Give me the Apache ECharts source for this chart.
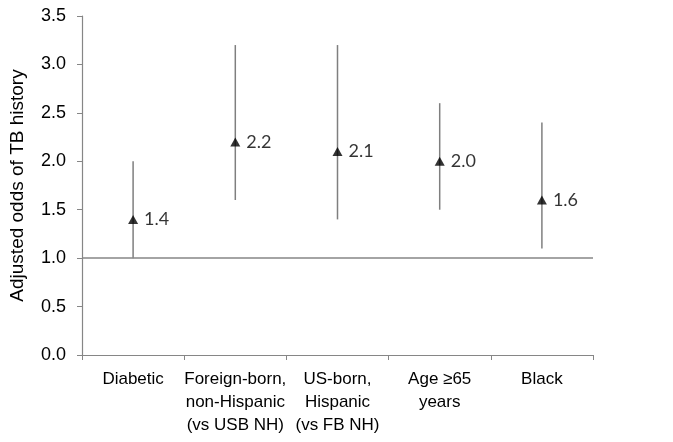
<!DOCTYPE html>
<html><head><meta charset="utf-8">
<script src="https://cdn.jsdelivr.net/npm/echarts@6/dist/echarts.min.js"></script>
<style>html,body{margin:0;padding:0;background:#fff}#c{width:673px;height:442px}</style>
</head><body><div id="c"></div>
<script>
const categories = ['Diabetic', 'Foreign-born,\nnon-Hispanic\n(vs USB NH)', 'US-born,\nHispanic\n(vs FB NH)', 'Age \u226565\nyears', 'Black'];
const oddsRatio = [1.4, 2.2, 2.1, 2.0, 1.6];
const lowerCI = [1.0, 1.6, 1.4, 1.5, 1.1];
const upperCI = [2.0, 3.2, 3.2, 2.6, 2.4];
const refValue = 1.0;

const chart = echarts.init(document.getElementById('c'));
chart.setOption({
  animation: false,
  backgroundColor: '#fff',
  grid: { left: 81, right: 80, top: 16, bottom: 87, containLabel: false },
  xAxis: {
    type: 'category', data: categories, boundaryGap: true,
    axisLine: { lineStyle: { color: '#868686', width: 1.2 } },
    axisTick: { show: true, length: 5, interval: 0, lineStyle: { color: '#868686' } },
    axisLabel: { interval: 0, color: '#000', fontFamily: 'Liberation Sans', fontSize: 17, lineHeight: 23, margin: 13 }
  },
  yAxis: {
    type: 'value', min: 0, max: 3.5, interval: 0.5,
    name: 'Adjusted odds of TB history', nameLocation: 'middle', nameGap: 55,
    nameTextStyle: { color: '#000', fontFamily: 'Liberation Sans', fontSize: 19 },
    axisLine: { show: true, lineStyle: { color: '#868686', width: 1.2 } },
    axisTick: { show: true, length: 5, lineStyle: { color: '#868686' } },
    splitLine: { show: false },
    axisLabel: { color: '#000', fontFamily: 'Liberation Sans', fontSize: 18, margin: 16, formatter: v => v.toFixed(1) }
  },
  series: [
    {
      type: 'custom',
      data: categories.map((c, i) => [i, lowerCI[i], upperCI[i]]),
      renderItem: function (params, api) {
        const lo = api.coord([api.value(0), api.value(1)]);
        const hi = api.coord([api.value(0), api.value(2)]);
        return { type: 'line', shape: { x1: lo[0], y1: lo[1], x2: hi[0], y2: hi[1] },
          style: { stroke: '#7f7f7f', lineWidth: 1.5 } };
      },
      z: 2
    },
    {
      type: 'scatter',
      data: oddsRatio,
      symbol: 'triangle', symbolSize: [10, 9],
      itemStyle: { color: '#000' },
      label: { show: true, position: 'right', distance: 6, color: '#000', fontFamily: 'Lato', fontSize: 18,
        formatter: p => p.value.toFixed(1) },
      markLine: {
        silent: true, symbol: 'none', label: { show: false },
        lineStyle: { color: '#868686', width: 1.5, type: 'solid' },
        data: [{ yAxis: refValue }]
      },
      z: 3
    }
  ]
});
</script></body></html>
